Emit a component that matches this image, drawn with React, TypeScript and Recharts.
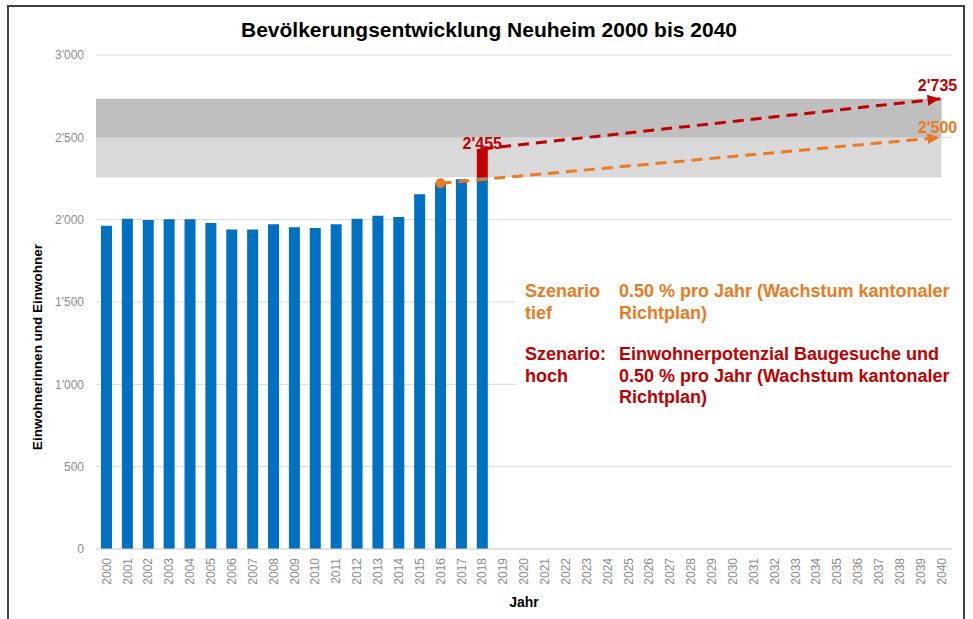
import React from 'react';
import {
  ComposedChart,
  Bar,
  Line,
  XAxis,
  YAxis,
  CartesianGrid,
  ReferenceArea,
  LabelList,
} from 'recharts';

// ---------- data ----------
const years = [
  2000, 2001, 2002, 2003, 2004, 2005, 2006, 2007, 2008, 2009, 2010,
  2011, 2012, 2013, 2014, 2015, 2016, 2017, 2018, 2019, 2020, 2021,
  2022, 2023, 2024, 2025, 2026, 2027, 2028, 2029, 2030, 2031, 2032,
  2033, 2034, 2035, 2036, 2037, 2038, 2039, 2040,
];
const populationYears = [
  2000, 2001, 2002, 2003, 2004, 2005, 2006, 2007, 2008, 2009, 2010,
  2011, 2012, 2013, 2014, 2015, 2016, 2017, 2018,
];
const population = [
  1963, 2006, 1998, 2002, 2002, 1980, 1941, 1941, 1972, 1954, 1949,
  1972, 2006, 2024, 2016, 2154, 2219, 2245, 2257,
];
const hochBarYear = 2018;
const hochBarTop = 2430;
const hochLabelValue = 2455;

const tiefYears = [2016, 2040];
const tiefValues = [2221, 2500];
const hochYears = [2018, 2040];
const hochValues = [2430, 2735];

const bandLow = 2257;
const bandMid = 2500;
const bandHigh = 2735;
const bandStartYear = 1999.5;
const bandEndYear = 2040;

const yTicks = [0, 500, 1000, 1500, 2000, 2500, 3000];

const title = 'Bevölkerungsentwicklung Neuheim 2000 bis 2040';
const xLabel = 'Jahr';
const yLabel = 'Einwohnerinnen und Einwohner';
const tiefHead = ['Szenario', 'tief'];
const tiefText = ['0.50 % pro Jahr (Wachstum kantonaler', 'Richtplan)'];
const hochHead = ['Szenario:', 'hoch'];
const hochText = [
  'Einwohnerpotenzial Baugesuche und',
  '0.50 % pro Jahr (Wachstum kantonaler',
  'Richtplan)',
];

// ---------- colours ----------
const BLUE = '#0070C0';
const RED = '#C00000';
const ORANGE = '#EB7A22';
const BAND_DARK = '#BFBFBF';
const BAND_LIGHT = '#D9D9D9';
const GRID = '#D9D9D9';
const TICK = '#8C8C8C';

const fmt = (n: number) => {
  if (n >= 1000) {
    const t = Math.floor(n / 1000);
    const r = String(n % 1000).padStart(3, '0');
    return `${t}'${r}`;
  }
  return String(n);
};

const data = years.map((year) => {
  const pi = populationYears.indexOf(year);
  const ti = tiefYears.indexOf(year);
  const hi = hochYears.indexOf(year);
  const row: any = { year };
  row.pop = pi >= 0 ? population[pi] : null;
  row.hochAdd = year === hochBarYear && pi >= 0 ? hochBarTop - population[pi] : null;
  row.hochLabel = year === hochBarYear ? hochLabelValue : null;
  row.tief = ti >= 0 ? tiefValues[ti] : null;
  row.hoch = hi >= 0 ? hochValues[hi] : null;
  return row;
});

const makeDot =
  (
    key: string,
    color: string,
    startYear: number,
    endYear: number,
    showStart: boolean,
    labelDy: number,
    fallbackAngle: number
  ) =>
  (props: any) => {
    const { cx, cy, payload, points, index } = props;
    const k = `${key}-dot-${index}`;
    if (cx == null || cy == null || payload == null || payload[key] == null) return <g key={k} />;
    if (payload.year === endYear) {
      let ang = fallbackAngle;
      const pts = (points || []).filter((p: any) => p && p.x != null && p.y != null);
      if (pts.length >= 2) {
        const a = pts[0];
        const b = pts[pts.length - 1];
        ang = Math.atan2(b.y - a.y, b.x - a.x);
      }
      const tipX = cx - 2;
      const tipY = cy + Math.tan(ang) * -2;
      const L = 12;
      const W = 5.5;
      const bx = tipX - L * Math.cos(ang);
      const by = tipY - L * Math.sin(ang);
      const nx = -Math.sin(ang);
      const ny = Math.cos(ang);
      const d = `M${tipX},${tipY} L${bx + nx * W},${by + ny * W} L${bx - nx * W},${by - ny * W} Z`;
      return (
        <g key={k}>
          <path d={d} fill={color} />
          <text
            x={cx - 4}
            y={cy + labelDy}
            textAnchor="middle"
            fill={color}
            fontWeight="bold"
            fontSize={16}
            fontFamily="'Liberation Sans', Arial, sans-serif"
          >
            {fmt(payload[key])}
          </text>
        </g>
      );
    }
    if (showStart && payload.year === startYear) {
      return <circle key={k} cx={cx} cy={cy} r={5} fill={color} />;
    }
    return <g key={k} />;
  };

const XTick = (props: any) => {
  const { x, y, payload } = props;
  return (
    <text
      x={x}
      y={y}
      transform={`rotate(-90, ${x}, ${y})`}
      textAnchor="end"
      dy="0.35em"
      fill={TICK}
      fontSize={12}
      fontFamily="'Liberation Sans', Arial, sans-serif"
    >
      {payload.value}
    </text>
  );
};

const HochLabel = (props: any) => {
  const { x, y, width, value } = props;
  if (value == null || x == null) return null;
  return (
    <text
      x={x + width / 2}
      y={y}
      textAnchor="middle"
      fill={RED}
      fontWeight="bold"
      fontSize={16}
      fontFamily="'Liberation Sans', Arial, sans-serif"
    >
      {fmt(value)}
    </text>
  );
};

export default function App() {
  const W = 973;
  const H = 619;
  const textFont = "'Liberation Sans', Arial, sans-serif";
  const fs = 18;
  const lh = 21.5;
  return (
    <div style={{ position: 'absolute', left: 0, top: 0, width: W, height: H, background: '#fff' }}>
      <ComposedChart
        width={W}
        height={H}
        data={data}
        margin={{ top: 55, right: 21, bottom: 0, left: 0 }}
        style={{ fontFamily: textFont }}
      >
        <CartesianGrid horizontal vertical={false} stroke={GRID} strokeWidth={1} />
        <XAxis
          dataKey="year"
          type="number"
          domain={[1999.5, 2040.5]}
          ticks={years}
          interval={0}
          height={70}
          axisLine={{ stroke: GRID }}
          tickLine={false}
          tickSize={6}
          tickMargin={3}
          tick={<XTick />}
          label={(p: any) => {
            const vb = p.viewBox || { x: 96, y: 549, width: 856 };
            return (
              <text
                x={vb.x + vb.width / 2}
                y={vb.y + 58}
                textAnchor="middle"
                fontWeight="bold"
                fontSize={14}
                fill="#000"
                fontFamily={textFont}
              >
                {xLabel}
              </text>
            );
          }}
        />
        <YAxis
          type="number"
          domain={[0, 3000]}
          ticks={yTicks}
          width={96}
          axisLine={false}
          tickLine={false}
          tickMargin={6}
          tickFormatter={fmt}
          tick={{ fill: TICK, fontSize: 12, fontFamily: textFont }}
          label={() => (
            <text
              x={37}
              y={347}
              transform="rotate(-90, 37, 347)"
              textAnchor="middle"
              fontWeight="bold"
              fontSize={13.5}
              fill="#000"
              fontFamily={textFont}
              dy="0.35em"
            >
              {yLabel}
            </text>
          )}
        />
        <ReferenceArea
          x1={bandStartYear}
          x2={bandEndYear}
          y1={bandLow}
          y2={bandMid}
          fill={BAND_LIGHT}
          fillOpacity={1}
          stroke="none"
          ifOverflow="visible"
        />
        <ReferenceArea
          x1={bandStartYear}
          x2={bandEndYear}
          y1={bandMid}
          y2={bandHigh}
          fill={BAND_DARK}
          fillOpacity={1}
          stroke="none"
          ifOverflow="visible"
        />
        <Bar dataKey="pop" stackId="a" fill={BLUE} barSize={11} isAnimationActive={false} />
        <Bar dataKey="hochAdd" stackId="a" fill={RED} barSize={11} isAnimationActive={false}>
          <LabelList dataKey="hochLabel" content={<HochLabel />} />
        </Bar>
        <Line
          dataKey="tief"
          stroke={ORANGE}
          strokeWidth={3}
          strokeDasharray="11 7"
          connectNulls
          dot={makeDot('tief', ORANGE, 2016, 2040, true, -4, -0.094)}
          activeDot={false}
          isAnimationActive={false}
        />
        <Line
          dataKey="hoch"
          stroke={RED}
          strokeWidth={3}
          strokeDasharray="11 7"
          connectNulls
          dot={makeDot('hoch', RED, 2018, 2040, false, -8, -0.118)}
          activeDot={false}
          isAnimationActive={false}
        />
      </ComposedChart>
      <svg
        width={W}
        height={H}
        style={{ position: 'absolute', left: 0, top: 0, pointerEvents: 'none' }}
      >
        <rect x={8} y={6} width={956} height={640} fill="none" stroke="#404040" strokeWidth={2} />
        <text
          x={489}
          y={37}
          textAnchor="middle"
          fontWeight="bold"
          fontSize={21}
          fill="#000"
          fontFamily={textFont}
        >
          {title}
        </text>
        <rect x={516} y={272} width={446} height={138} fill="#fff" />
        {tiefHead.map((t, i) => (
          <text key={`th${i}`} x={525} y={297 + i * lh} fill={ORANGE} fontWeight="bold" fontSize={fs} fontFamily={textFont}>
            {t}
          </text>
        ))}
        {tiefText.map((t, i) => (
          <text key={`tt${i}`} x={619} y={297 + i * lh} fill={ORANGE} fontWeight="bold" fontSize={fs} fontFamily={textFont}>
            {t}
          </text>
        ))}
        {hochHead.map((t, i) => (
          <text key={`hh${i}`} x={525} y={360 + i * lh} fill={RED} fontWeight="bold" fontSize={fs} fontFamily={textFont}>
            {t}
          </text>
        ))}
        {hochText.map((t, i) => (
          <text key={`ht${i}`} x={619} y={360 + i * lh} fill={RED} fontWeight="bold" fontSize={fs} fontFamily={textFont}>
            {t}
          </text>
        ))}
      </svg>
    </div>
  );
}
